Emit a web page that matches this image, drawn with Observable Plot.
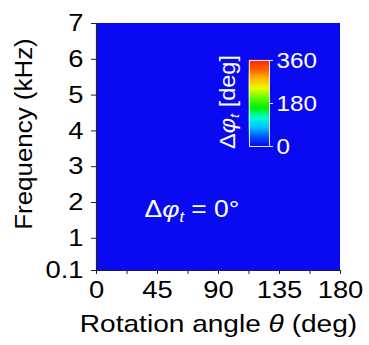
<!DOCTYPE html>
<html>
<head>
<meta charset="utf-8">
<script src="https://cdn.jsdelivr.net/npm/d3@7"></script>
<script src="https://cdn.jsdelivr.net/npm/@observablehq/plot@0.6"></script>
<style>
  html, body { margin: 0; padding: 0; background: #fff; }
  #wrap { position: relative; width: 369px; height: 345px; }
  #wrap svg { position: absolute; left: 0; top: 0; overflow: visible; }
</style>
</head>
<body>
<div id="wrap"></div>
<script>
// ---- data ----
const thetaEdges = [0, 180];           // rotation angle range (deg)
const freqEdges = [0.1, 7];            // frequency range (kHz)
const phaseValues = [0];               // Δφt over the whole map (deg)
const xMajorTicks = [0, 45, 90, 135, 180];
const xMinorTicks = [22.5, 67.5, 112.5, 157.5];
const yTicks = [0.1, 1, 2, 3, 4, 5, 6, 7];
const cbarTicks = [0, 180, 360];
const cbarLevels = d3.range(0, 361, 2);  // colour-bar sampling of the scale
const jetColors = ["#0a0af2", "#0058ff", "#00c8ff", "#00ffd0", "#00f000", "#60ff00", "#e8ff00", "#ffc000", "#ff6000", "#ff2a00"];
const xLabel = "Rotation angle \u03b8 (deg)";
const yLabel = "Frequency (kHz)";
const cbarLabel = "\u0394\u03c6t [deg]";
const annotation = "\u0394\u03c6t = 0\u00b0";
const annotationPos = {theta: 70.4, freq: 1.79};

const FONT = "Liberation Sans, Arial, sans-serif";
const colorScale = {type: "linear", domain: [0, 360], interpolate: d3.piecewise(d3.interpolateRgb, jetColors)};

const cells = phaseValues.map(v => ({x1: thetaEdges[0], x2: thetaEdges[1], y1: freqEdges[0], y2: freqEdges[1], v}));

const main = Plot.plot({
  width: 369, height: 345,
  marginLeft: 96, marginRight: 29, marginTop: 23, marginBottom: 75,
  style: {fontFamily: FONT, fontSize: "24px", color: "#000", background: "transparent"},
  x: {domain: [0, 180]},
  y: {domain: [0.1, 7]},
  color: colorScale,
  marks: [
    Plot.rect(cells, {x1: "x1", x2: "x2", y1: "y1", y2: "y2", fill: "v"}),
    Plot.axisX({ticks: xMajorTicks, tickSize: 4, tickPadding: 6, label: null, stroke: "#222", fontSize: 24, className: "tk"}),
    Plot.axisX({ticks: xMinorTicks, tickSize: 4, text: null, label: null, stroke: "#222"}),
    Plot.axisY({ticks: yTicks, tickSize: 5, tickPadding: 8, label: null, stroke: "#222", fontSize: 24, tickFormat: d => String(d), className: "tk"}),
    Plot.ruleX([0], {stroke: "#222", strokeWidth: 1.2}),
    Plot.ruleY([0.1], {stroke: "#222", strokeWidth: 1.2}),
    Plot.text([xLabel], {frameAnchor: "bottom", dy: 61, fontSize: 24, fill: "#000", className: "xlab"}),
    Plot.text([yLabel], {frameAnchor: "left", rotate: -90, fontSize: 24, fill: "#000", className: "ylab"}),
    Plot.text([annotation], {x: [annotationPos.theta], y: [annotationPos.freq], fontSize: 23, fill: "#fff", className: "eq"})
  ]
});

const cbar = Plot.plot({
  width: 369, height: 345,
  marginLeft: 249, marginRight: 100, marginTop: 60, marginBottom: 199,
  style: {fontFamily: FONT, fontSize: "22px", color: "#fff", background: "transparent"},
  x: {domain: [0, 1], axis: null},
  y: {domain: [0, 360]},
  color: colorScale,
  marks: [
    Plot.rect(cbarLevels.slice(0, -1), {x1: 0, x2: 1, y1: d => d, y2: d => d + 2, fill: d => d, inset: -0.3}),
    Plot.frame({stroke: "#e6e6e6", strokeWidth: 1}),
    Plot.axisY({anchor: "right", ticks: cbarTicks, tickSize: 3, tickPadding: 4, label: null, stroke: "#e6e6e6", fill: "#fff", fontSize: 22, className: "tk"}),
    Plot.text([cbarLabel], {frameAnchor: "left", rotate: -90, fontSize: 22, fill: "#fff", className: "cblab"})
  ]
});

const wrap = document.getElementById("wrap");
wrap.appendChild(main);
wrap.appendChild(cbar);

const ns = "http://www.w3.org/2000/svg";
// style Δφt: italic φ, subscript t
function styleDelta(svg) {
  svg.querySelectorAll("text").forEach(t => {
    const s = t.textContent;
    if (!s.startsWith("\u0394\u03c6t")) return;
    const rest = s.slice(3);
    while (t.firstChild) t.removeChild(t.firstChild);
    const a = document.createElementNS(ns, "tspan"); a.textContent = "\u0394"; t.appendChild(a);
    const b = document.createElementNS(ns, "tspan"); b.textContent = "\u03c6"; b.setAttribute("font-style", "italic"); t.appendChild(b);
    const c = document.createElementNS(ns, "tspan"); c.textContent = "t"; c.setAttribute("font-style", "italic"); c.setAttribute("font-size", "0.62em"); c.setAttribute("baseline-shift", "-30%"); t.appendChild(c);
    const d = document.createElementNS(ns, "tspan"); d.textContent = rest; t.appendChild(d);
  });
}
styleDelta(main);
styleDelta(cbar);
main.querySelectorAll("text").forEach(t => {
  if (t.textContent === xLabel) {
    while (t.firstChild) t.removeChild(t.firstChild);
    const a = document.createElementNS(ns, "tspan"); a.textContent = "Rotation angle "; t.appendChild(a);
    const b = document.createElementNS(ns, "tspan"); b.textContent = "\u03b8"; b.setAttribute("font-style", "italic"); t.appendChild(b);
    const c = document.createElementNS(ns, "tspan"); c.textContent = " (deg)"; t.appendChild(c);
  }
});

// place rotated labels: baseline at x, centred at y
function placeRotated(svg, cls, x, y) {
  const t = svg.querySelector("g." + cls + " text, ." + cls + " text");
  if (!t) return;
  t.removeAttribute("x"); t.removeAttribute("y"); t.removeAttribute("dy");
  t.setAttribute("text-anchor", "middle");
  t.setAttribute("transform", `translate(${x},${y}) rotate(-90)`);
  const g = t.parentNode;
  if (g && g.getAttribute) g.removeAttribute("transform");
}
placeRotated(main, "ylab", 32, 134);
placeRotated(cbar, "cblab", 235, 102);

// horizontal stretch (along the reading direction) to match the reference's wide lettering
function stretch(t, k) {
  const x = parseFloat(t.getAttribute("x")) || 0;
  const tr = t.getAttribute("transform") || "";
  t.setAttribute("transform", `${tr} translate(${x},0) scale(${k},1) translate(${-x},0)`);
}
function stretchAll(svg, sel, k) { svg.querySelectorAll(sel).forEach(t => stretch(t, k)); }
stretchAll(main, ".tk text", 1.14);
stretchAll(cbar, ".tk text", 1.1);
stretchAll(main, ".xlab text", 1.17);
stretchAll(main, ".ylab text", 1.08);
stretchAll(main, ".eq text", 1.15);
stretchAll(cbar, ".cblab text", 1.07);
</script>
</body>
</html>
